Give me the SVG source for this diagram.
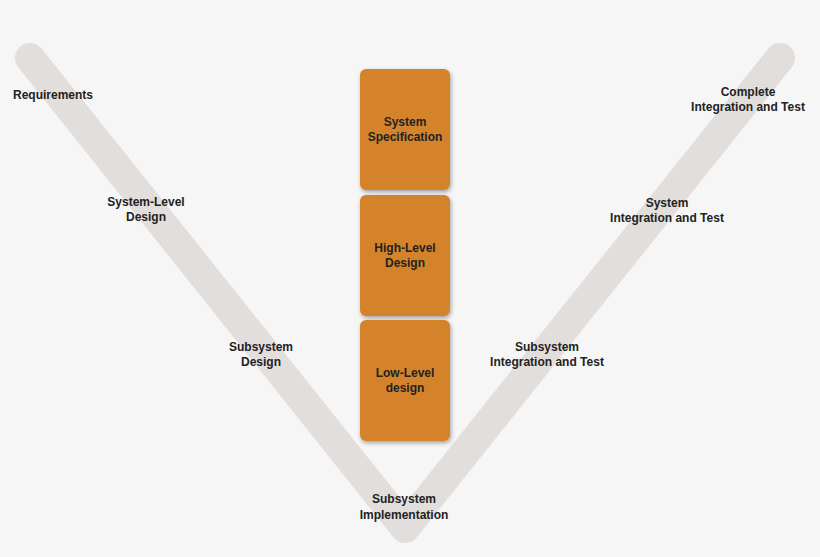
<svg xmlns="http://www.w3.org/2000/svg" width="820" height="557" viewBox="0 0 820 557">
<defs>
<filter id="sh" x="-20%" y="-20%" width="140%" height="140%"><feDropShadow dx="1" dy="2" stdDeviation="2" flood-color="#000" flood-opacity="0.35"/></filter>
<style>
.t{font-family:"Liberation Sans",Arial,sans-serif;font-size:12px;font-weight:bold;fill:#222;text-anchor:middle}
.b{fill:#d4832a;filter:url(#sh)}
</style>
</defs>
<rect width="820" height="557" fill="#f6f6f6"/>
<g id="connectors">
<polyline points="30,58 405,528 780,58" fill="none" stroke="#e2dedc" stroke-width="30" stroke-linecap="round" stroke-linejoin="round"/>
</g>
<g id="spec"><rect class="b" x="360" y="69" width="90" height="121" rx="6"/><text class="t" x="405" y="126">System</text><text class="t" x="405" y="141">Specification</text></g>
<g id="hld"><rect class="b" x="360" y="195" width="90" height="121" rx="6"/><text class="t" x="405" y="252">High-Level</text><text class="t" x="405" y="267">Design</text></g>
<g id="lld"><rect class="b" x="360" y="320" width="90" height="121" rx="6"/><text class="t" x="405" y="377">Low-Level</text><text class="t" x="405" y="392">design</text></g>
<g id="req"><text class="t" x="53" y="99">Requirements</text></g>
<g id="sld"><text class="t" x="146" y="206">System-Level</text><text class="t" x="146" y="221">Design</text></g>
<g id="ssd"><text class="t" x="261" y="351">Subsystem</text><text class="t" x="261" y="366">Design</text></g>
<g id="ssi"><text class="t" x="404" y="503">Subsystem</text><text class="t" x="404" y="519">Implementation</text></g>
<g id="ssit"><text class="t" x="547" y="351">Subsystem</text><text class="t" x="547" y="366">Integration and Test</text></g>
<g id="sit"><text class="t" x="667" y="207">System</text><text class="t" x="667" y="222">Integration and Test</text></g>
<g id="cit"><text class="t" x="748" y="96">Complete</text><text class="t" x="748" y="111">Integration and Test</text></g>
</svg>
